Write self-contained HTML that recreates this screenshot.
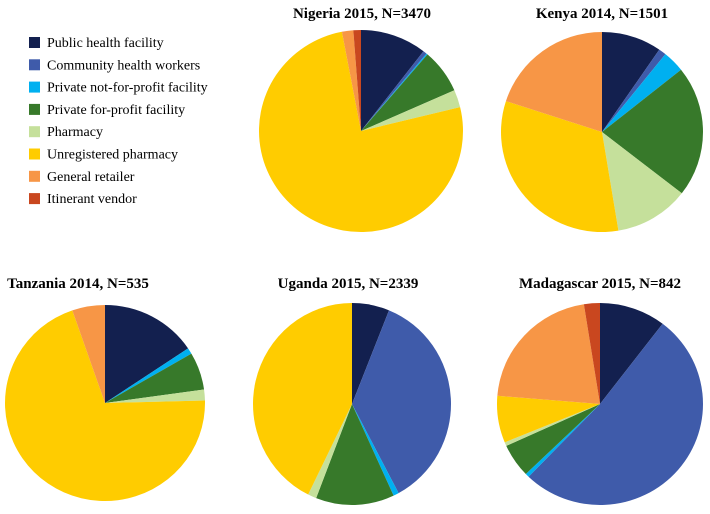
<!DOCTYPE html>
<html><head><meta charset="utf-8">
<style>
body{margin:0;background:#fff;width:710px;height:514px;overflow:hidden}
svg{display:block;font-family:"Liberation Serif",serif}
</style></head><body>
<svg id="c" width="710" height="514"></svg>
<script>
const categories=["Public health facility","Community health workers","Private not-for-profit facility","Private for-profit facility","Pharmacy","Unregistered pharmacy","General retailer","Itinerant vendor"];
const colors=["#13204F","#3F5BAA","#00B0F0","#37792A","#C5E09B","#FFCC00","#F79646","#C9471F"];
const titles=["Nigeria 2015, N=3470","Kenya 2014, N=1501","Tanzania 2014, N=535","Uganda 2015, N=2339","Madagascar 2015, N=842"];
const nigeria=[10.5,0.6,0.2,7.1,2.8,75.8,1.8,1.2];
const kenya=[9.6,1.2,3.5,21.2,11.9,32.6,20.0,0];
const tanzania=[15.6,0,1.0,6.2,1.8,70.1,5.3,0];
const uganda=[6.1,36.1,0.9,12.8,1.4,42.7,0,0];
const madagascar=[10.4,51.8,0.6,5.4,0.6,7.5,21.2,2.5];
const series=[nigeria,kenya,tanzania,uganda,madagascar];
const layout=[{cx:361,cy:131,rx:102,ry:101,tx:362,ty:18},{cx:602,cy:132,rx:101,ry:100,tx:602,ty:18},{cx:105,cy:403,rx:100,ry:98,tx:78,ty:288},{cx:352,cy:404,rx:99,ry:101,tx:348,ty:288},{cx:600,cy:404,rx:103,ry:101,tx:600,ty:288}];
const NS="http://www.w3.org/2000/svg";
const svg=document.getElementById('c');
function mk(t,a){const e=document.createElementNS(NS,t);for(const k in a)e.setAttribute(k,a[k]);return e;}
function pt(L,f){const a=f*2*Math.PI;return [L.cx+L.rx*Math.sin(a),L.cy-L.ry*Math.cos(a)];}
series.forEach((vals,i)=>{
  const L=layout[i];
  const g=mk('g',{});
  
  
  svg.appendChild(g);
  const t=mk('text',{x:L.tx,y:L.ty,'text-anchor':'middle','font-size':'15','font-weight':'bold'});
  t.textContent=titles[i];
  
  
  g.appendChild(t);
  const tot=vals.reduce((a,b)=>a+b,0);
  let acc=0;
  vals.forEach((v,j)=>{
    if(v<=0)return;
    const f0=acc/tot,f1=(acc+v)/tot;acc+=v;
    const p0=pt(L,f0),p1=pt(L,f1);
    const large=(f1-f0)>0.5?1:0;
    const p=mk('path',{d:`M${L.cx},${L.cy}L${p0[0]},${p0[1]}A${L.rx},${L.ry} 0 ${large} 1 ${p1[0]},${p1[1]}Z`,fill:colors[j]});
    
    
    g.appendChild(p);
  });
});
const lg=mk('g',{});


svg.appendChild(lg);
categories.forEach((c,j)=>{
  const y=42+j*22.3;
  const r=mk('rect',{x:29,y:y-5,width:11,height:11,fill:colors[j]});
  
  
  lg.appendChild(r);
  const t=mk('text',{x:47,y:y+5,'font-size':'14'});
  t.textContent=c;
  
  
  lg.appendChild(t);
});
</script>
</body></html>
